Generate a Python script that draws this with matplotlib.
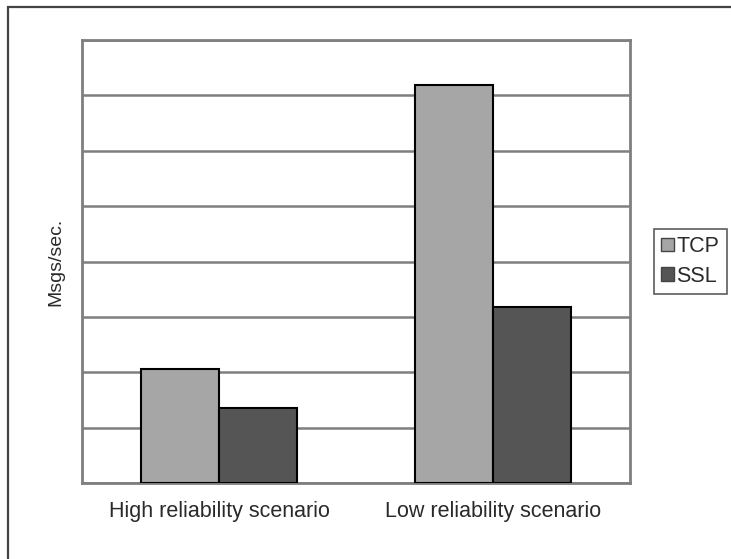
import matplotlib.pyplot as plt
import numpy as np
from matplotlib.patches import Rectangle

plt.rcParams['font.family'] = ['Liberation Sans', 'DejaVu Sans']

# values (no axis labels, grid units 0..8)
scenarios = ["High reliability scenario", "Low reliability scenario"]
tcp = [2.05, 7.19]
ssl = [1.35, 3.18]

fig = plt.figure(figsize=(7.31, 5.59), dpi=100)
ax = fig.add_axes([0.1122, 0.136, 0.7496, 0.7924])

# outer frame of the figure, cut off at right and bottom
fig.patches.append(Rectangle((8 / 731, -0.2), 1.2, 0.2 + 1 - 7 / 559,
                             transform=fig.transFigure, fill=False,
                             edgecolor="#444444", linewidth=1.6))

x = np.arange(len(scenarios))
w = 0.285
ax.bar(x - w / 2, tcp, w, color="#a6a6a6", edgecolor="black", linewidth=1.5,
       label="TCP", zorder=3)
ax.bar(x + w / 2, ssl, w, color="#555555", edgecolor="black", linewidth=1.5,
       label="SSL", zorder=3)

ax.set_xlim(-0.5, 1.5)
ax.set_ylim(0, 8)
ax.set_yticks(np.arange(0, 9, 1))
ax.set_yticklabels([])
ax.tick_params(axis="y", length=0)
ax.tick_params(axis="x", length=0, pad=13)
ax.set_xticks(x)
ax.set_xticklabels(scenarios, fontsize=15.5, color="#2a2a2a")
ax.yaxis.grid(True, color="#7f7f7f", linewidth=1.8, zorder=0)
ax.set_axisbelow(True)
for s in ax.spines.values():
    s.set_color("#7f7f7f")
    s.set_linewidth(2)

ax.set_ylabel("Msgs/sec.", fontsize=14, color="#2a2a2a", labelpad=9)

leg = ax.legend(loc="center left", bbox_to_anchor=(1.043, 0.5), fontsize=15.5,
                frameon=True, fancybox=False, handlelength=0.6,
                handleheight=0.6, handletextpad=0.1, borderpad=0.35,
                labelspacing=0.4, borderaxespad=0)
leg.get_frame().set_edgecolor("#333333")
leg.get_frame().set_linewidth(1.2)
for t in leg.get_texts():
    t.set_color("#2a2a2a")
for h in leg.legend_handles:
    h.set_edgecolor("#444444")
    h.set_linewidth(1.0)

fig.savefig("out.png", dpi=100)
